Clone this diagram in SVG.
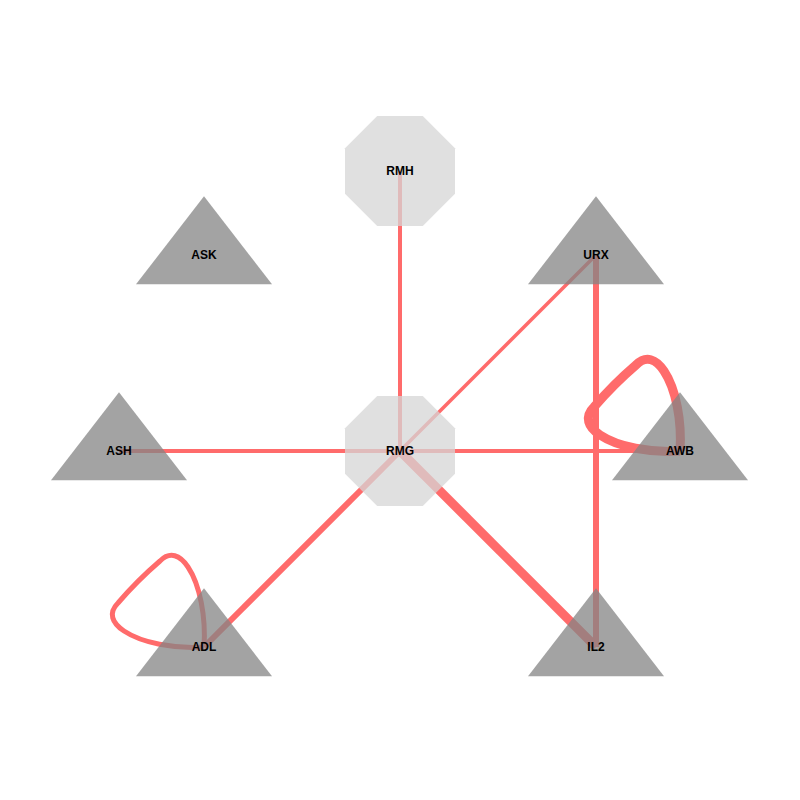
<svg xmlns="http://www.w3.org/2000/svg" width="800" height="800" viewBox="0 0 800 800">
<style>
.e{stroke:#ff6b6b;fill:none;stroke-linecap:butt;stroke-linejoin:round}
.tri{fill:#848484;fill-opacity:0.75}
.oct{fill:#d5d5d5;fill-opacity:0.75}
text{font-family:"Liberation Sans",Arial,sans-serif;font-weight:bold;font-size:12px;fill:#000;text-anchor:middle;dominant-baseline:central}
</style>
<defs>
<polygon id="triShape" points="0,-58.7 68,29.3 -68,29.3"/>
<polygon id="octShape" points="-22.8,-55 22.8,-55 55,-22.8 55,22.8 22.8,55 -22.8,55 -55,22.8 -55,-22.8"/>
<path id="loop" d="M0,0 C2,-30 -4,-62 -16,-80 C-24,-92 -34,-96 -44,-86 C-58,-74 -74,-58 -86,-44 C-96,-34 -92,-24 -80,-16 C-62,-4 -30,2 0,0"/>
</defs>
<rect width="800" height="800" fill="#fff"/>
<g id="edges">
<line class="e" x1="400" y1="171" x2="400" y2="451" stroke-width="4"/>
<line class="e" x1="596" y1="255" x2="400" y2="451" stroke-width="3.5"/>
<line class="e" x1="596" y1="255" x2="596" y2="647" stroke-width="6"/>
<line class="e" x1="119" y1="451" x2="400" y2="451" stroke-width="4"/>
<line class="e" x1="400" y1="451" x2="680" y2="451" stroke-width="4"/>
<line class="e" x1="400" y1="451" x2="204" y2="647" stroke-width="6"/>
<line class="e" x1="400" y1="451" x2="596" y2="647" stroke-width="9"/>
<use href="#loop" class="e" transform="translate(680,451)" stroke-width="9"/>
<use href="#loop" class="e" transform="translate(204,647)" stroke-width="5"/>
</g>
<g id="RMH"><use href="#octShape" class="oct" transform="translate(400,171)"/><text x="400" y="171">RMH</text></g>
<g id="RMG"><use href="#octShape" class="oct" transform="translate(400,451)"/><text x="400" y="451">RMG</text></g>
<g id="ASK"><use href="#triShape" class="tri" transform="translate(204,255)"/><text x="204" y="255">ASK</text></g>
<g id="URX"><use href="#triShape" class="tri" transform="translate(596,255)"/><text x="596" y="255">URX</text></g>
<g id="ASH"><use href="#triShape" class="tri" transform="translate(119,451)"/><text x="119" y="451">ASH</text></g>
<g id="AWB"><use href="#triShape" class="tri" transform="translate(680,451)"/><text x="680" y="451">AWB</text></g>
<g id="ADL"><use href="#triShape" class="tri" transform="translate(204,647)"/><text x="204" y="647">ADL</text></g>
<g id="IL2"><use href="#triShape" class="tri" transform="translate(596,647)"/><text x="596" y="647">IL2</text></g>
</svg>
